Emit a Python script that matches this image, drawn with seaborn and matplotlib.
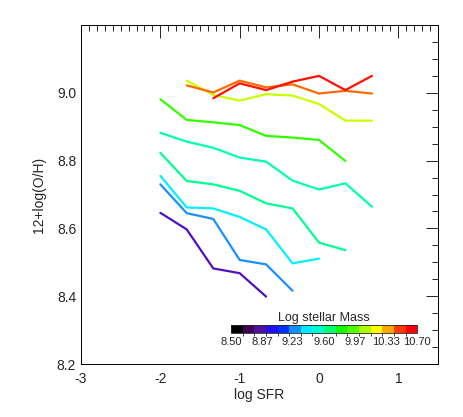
import numpy as np
import pandas as pd
import matplotlib
matplotlib.use("Agg")
import matplotlib.pyplot as plt
from matplotlib.colors import ListedColormap, BoundaryNorm
from matplotlib.ticker import MultipleLocator
import seaborn as sns

# log SFR bin centres
sfr_bins = [-2.0, -1.667, -1.333, -1.0, -0.667, -0.333, 0.0, 0.333, 0.667]

# 12+log(O/H) per stellar-mass bin (None = empty bin)
oh_m1 = [8.646, 8.597, 8.482, 8.468, 8.399, None, None, None, None]
oh_m2 = [8.730, 8.645, 8.628, 8.507, 8.494, 8.416, None, None, None]
oh_m3 = [8.755, 8.662, 8.659, 8.634, 8.597, 8.497, 8.511, None, None]
oh_m4 = [8.823, 8.740, 8.730, 8.711, 8.674, 8.659, 8.558, 8.536, None]
oh_m5 = [8.882, 8.856, 8.838, 8.809, 8.797, 8.741, 8.715, 8.733, 8.664]
oh_m6 = [8.981, 8.920, 8.913, 8.905, 8.873, 8.868, 8.861, 8.799, None]
oh_m7 = [None, 9.036, 8.994, 8.977, 8.996, 8.992, 8.967, 8.918, 8.918]
oh_m8 = [None, 9.022, 9.001, 9.036, 9.016, 9.025, 8.998, 9.006, 8.998]
oh_m9 = [None, None, 8.984, 9.028, 9.008, 9.033, 9.050, 9.008, 9.050]

series = [oh_m1, oh_m2, oh_m3, oh_m4, oh_m5, oh_m6, oh_m7, oh_m8, oh_m9]
line_colors = ['#5010c0', '#1a90ff', '#00f0ff', '#00ff90', '#00ffb0',
               '#30ff00', '#c8ff00', '#ff6a00', '#ff1000']

# colour bar (IDL-like rainbow)
cbar_colors = ['#000000', '#400050', '#5010a0', '#2010f0', '#0030ff', '#1090ff',
               '#00e8ff', '#00ffd0', '#00ff70', '#10ff00', '#50ff00', '#b0ff00',
               '#ffff00', '#ffa800', '#ff3800', '#ff0000']
cbar_ticks = [8.50, 8.87, 9.23, 9.60, 9.97, 10.33, 10.70]

rows = []
for i, ys in enumerate(series):
    for x, y in zip(sfr_bins, ys):
        if y is not None:
            rows.append({'sfr': x, 'oh': y, 'mbin': i})
df = pd.DataFrame(rows)

sns.set_style("white")
plt.rcParams['font.family'] = ['Liberation Sans', 'DejaVu Sans']

fig = plt.figure(figsize=(4.63, 4.17), dpi=100)
ax = fig.add_axes([0.175, 0.127, 0.771, 0.813])

sns.lineplot(data=df, x='sfr', y='oh', hue='mbin', units='mbin', estimator=None,
             palette=dict(enumerate(line_colors)), linewidth=1.6, legend=False,
             sort=True, ax=ax)

ax.set_xlim(-3, 1.5)
ax.set_ylim(8.2, 9.2)
ax.xaxis.set_minor_locator(MultipleLocator(0.1))
ax.yaxis.set_minor_locator(MultipleLocator(0.05))
ax.set_xticks([-3, -2, -1, 0, 1])
ax.set_xticklabels(['-3', '-2', '-1', '0', '1'])
ax.set_yticks([8.2, 8.4, 8.6, 8.8, 9.0])
ax.set_yticklabels(['8.2', '8.4', '8.6', '8.8', '9.0'])
ax.tick_params(which='both', direction='in', top=True, right=True,
               labelsize=10, width=0.6, color='black')
ax.tick_params(which='major', length=9)
ax.tick_params(which='minor', length=4)
ax.tick_params(axis='x', pad=6)
for s in ax.spines.values():
    s.set_color('black')
    s.set_linewidth(0.7)
ax.set_xlabel('log SFR', fontsize=10, labelpad=1)
ax.set_ylabel('12+log(O/H)', fontsize=10, labelpad=8)

# colour bar inset
cax = fig.add_axes([0.499, 0.201, 0.402, 0.019])
cmap = ListedColormap(cbar_colors)
bounds = np.linspace(8.50, 10.70, len(cbar_colors) + 1)
norm = BoundaryNorm(bounds, cmap.N)
sm = plt.cm.ScalarMappable(cmap=cmap, norm=norm)
cb = fig.colorbar(sm, cax=cax, orientation='horizontal', ticks=cbar_ticks)
cb.ax.set_xticklabels(['%.2f' % t for t in cbar_ticks])
cb.ax.tick_params(length=0, labelsize=8, pad=3)
cb.outline.set_linewidth(0.6)
cb.ax.set_title('Log stellar Mass', fontsize=9, pad=3)

fig.savefig('out.png', dpi=100)
